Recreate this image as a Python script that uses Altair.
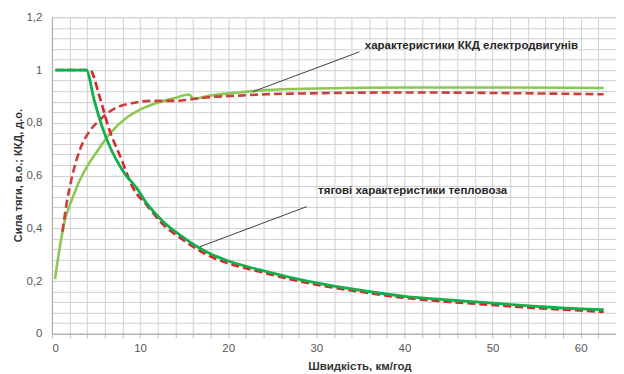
import altair as alt
import pandas as pd

# Traction characteristic, series 1 (solid dark green)
tr1_x = [0.4, 2.0, 3.9, 4.8, 5.8, 6.5, 7.3, 8.2, 9.6, 10.7, 12.6, 14.5, 16.4, 18.2, 20.2,
         23.6, 27.0, 30.0, 35.0, 40.0, 45.0, 50.0, 55.0, 60.0, 62.6]
tr1_y = [1.0, 1.0, 1.0, 0.885, 0.775, 0.715, 0.66, 0.61, 0.553, 0.497, 0.426, 0.375, 0.332, 0.30, 0.274,
         0.242, 0.214, 0.193, 0.165, 0.142, 0.128, 0.116, 0.104, 0.094, 0.091]

# Traction characteristic, series 2 (dashed red)
tr2_x = [0.4, 4.3, 5.4, 6.4, 7.9, 9.2, 10.7, 12.6, 14.5, 16.4, 18.2, 20.2, 23.6, 27.0, 30.0,
         35.0, 40.0, 45.0, 50.0, 55.0, 60.0, 62.6]
tr2_y = [1.0, 1.0, 0.90, 0.785, 0.66, 0.553, 0.49, 0.415, 0.365, 0.322, 0.29, 0.265, 0.235, 0.207, 0.186,
         0.159, 0.136, 0.121, 0.109, 0.097, 0.088, 0.083]

# Motor efficiency, series 1 (solid light green)
ef1_x = [0.35, 0.9, 1.47, 2.4, 3.2, 4.1, 5.1, 6.6, 8.5, 10.0, 11.9, 13.75, 15.6, 16.0, 17.9,
         21.3, 24.3, 30.0, 40.0, 50.0, 62.6]
ef1_y = [0.207, 0.33, 0.43, 0.52, 0.585, 0.64, 0.69, 0.76, 0.82, 0.85, 0.875, 0.892, 0.907, 0.892, 0.903,
         0.915, 0.924, 0.93, 0.934, 0.934, 0.932]

# Motor efficiency, series 2 (dashed red)
ef2_x = [1.2, 1.67, 2.2, 3.2, 4.1, 5.1, 6.9, 9.2, 11.1, 13.75, 15.6, 17.5, 21.3, 24.3, 30.0,
         40.0, 50.0, 62.6]
ef2_y = [0.387, 0.495, 0.583, 0.70, 0.76, 0.80, 0.85, 0.875, 0.883, 0.883, 0.888, 0.896, 0.903, 0.908, 0.912,
         0.915, 0.913, 0.908]

# Annotations
ann_text = ["характеристики ККД електродвигунів", "тягові характеристики тепловоза"]
ann_x = [35.5, 30.2]
ann_y = [1.09, 0.543]
lead_x1 = [34.9, 28.9]
lead_y1 = [1.069, 0.482]
lead_x2 = [22.8, 16.8]
lead_y2 = [0.918, 0.33]

x_grid = list(range(0, 65, 2))
y_grid = [round(i * 0.04, 2) for i in range(31)]

FONT = "Liberation Sans"
GRID = "#d0d0d0"
LBL = "#595959"

x_axis = alt.Axis(values=x_grid, labelExpr="datum.value % 10 == 0 ? datum.label : ''",
                  grid=True, gridColor=GRID, gridWidth=1, domainColor="#a6a6a6",
                  ticks=True, tickSize=4, tickColor="#bfbfbf", labelPadding=5,
                  labelFont=FONT, labelFontSize=11.5, labelColor=LBL,
                  title="Швидкість, км/год", titleFont=FONT, titleFontSize=11.5,
                  titleFontWeight="bold", titleColor="#333333",
                  titleX=308, titleY=33, titleBaseline="middle", titleAlign="center")
y_axis = alt.Axis(values=y_grid,
                  labelExpr="round(datum.value*100) % 20 == 0 ? replace(format(datum.value, '.1~f'), '.', ',') : ''",
                  grid=True, gridColor=GRID, gridWidth=1, domainColor="#a6a6a6",
                  ticks=False, labelPadding=10,
                  labelFont=FONT, labelFontSize=11.5, labelColor=LBL,
                  title="Сила тяги, в.о.; ККД, д.о.", titleFont=FONT, titleFontSize=11,
                  titleFontWeight="bold", titleColor="#333333",
                  titleX=-33, titleY=158, titleAngle=270, titleBaseline="middle", titleAlign="center")

xs = alt.Scale(domain=[0, 64], nice=False, zero=True)
ys = alt.Scale(domain=[0, 1.2], nice=False, zero=True)


def line(xv, yv, color, dash=None, width=2.6):
    df = pd.DataFrame({"x": xv, "y": yv})
    kw = dict(color=color, strokeWidth=width, interpolate="monotone")
    if dash:
        kw["strokeDash"] = dash
    return alt.Chart(df).mark_line(**kw).encode(
        x=alt.X("x:Q", scale=xs, axis=x_axis),
        y=alt.Y("y:Q", scale=ys, axis=y_axis),
        order=alt.Order("x:Q"),
    )


l_ef1 = line(ef1_x, ef1_y, "#8cc751")
l_ef2 = line(ef2_x, ef2_y, "#c9403d", dash=[8, 4])
l_tr2 = line(tr2_x, tr2_y, "#d7262b", dash=[8, 4])
l_tr1 = line(tr1_x, tr1_y, "#0fb04c", width=2.8)

ann = pd.DataFrame({"t": ann_text, "x": ann_x, "y": ann_y,
                    "x1": lead_x1, "y1": lead_y1, "x2": lead_x2, "y2": lead_y2})

leaders = alt.Chart(ann).mark_rule(color="#404040", strokeWidth=1).encode(
    x=alt.X("x1:Q", scale=xs, axis=x_axis), y=alt.Y("y1:Q", scale=ys, axis=y_axis),
    x2="x2:Q", y2="y2:Q")

texts = alt.Chart(ann).mark_text(align="left", baseline="middle", font=FONT, fontSize=11.5,
                                 fontWeight="bold", color="#262626").encode(
    x=alt.X("x:Q", scale=xs, axis=x_axis), y=alt.Y("y:Q", scale=ys, axis=y_axis), text="t:N")

chart = alt.layer(l_ef1, l_ef2, l_tr2, l_tr1, leaders, texts).properties(
    width=565, height=317,
    autosize=alt.AutoSizeParams(type="none"),
    padding={"left": 44, "top": 9, "right": 0, "bottom": 40},
).configure_view(stroke=None).configure(background="white")

chart.save("out.html", embed_options={"renderer": "svg", "actions": False})
